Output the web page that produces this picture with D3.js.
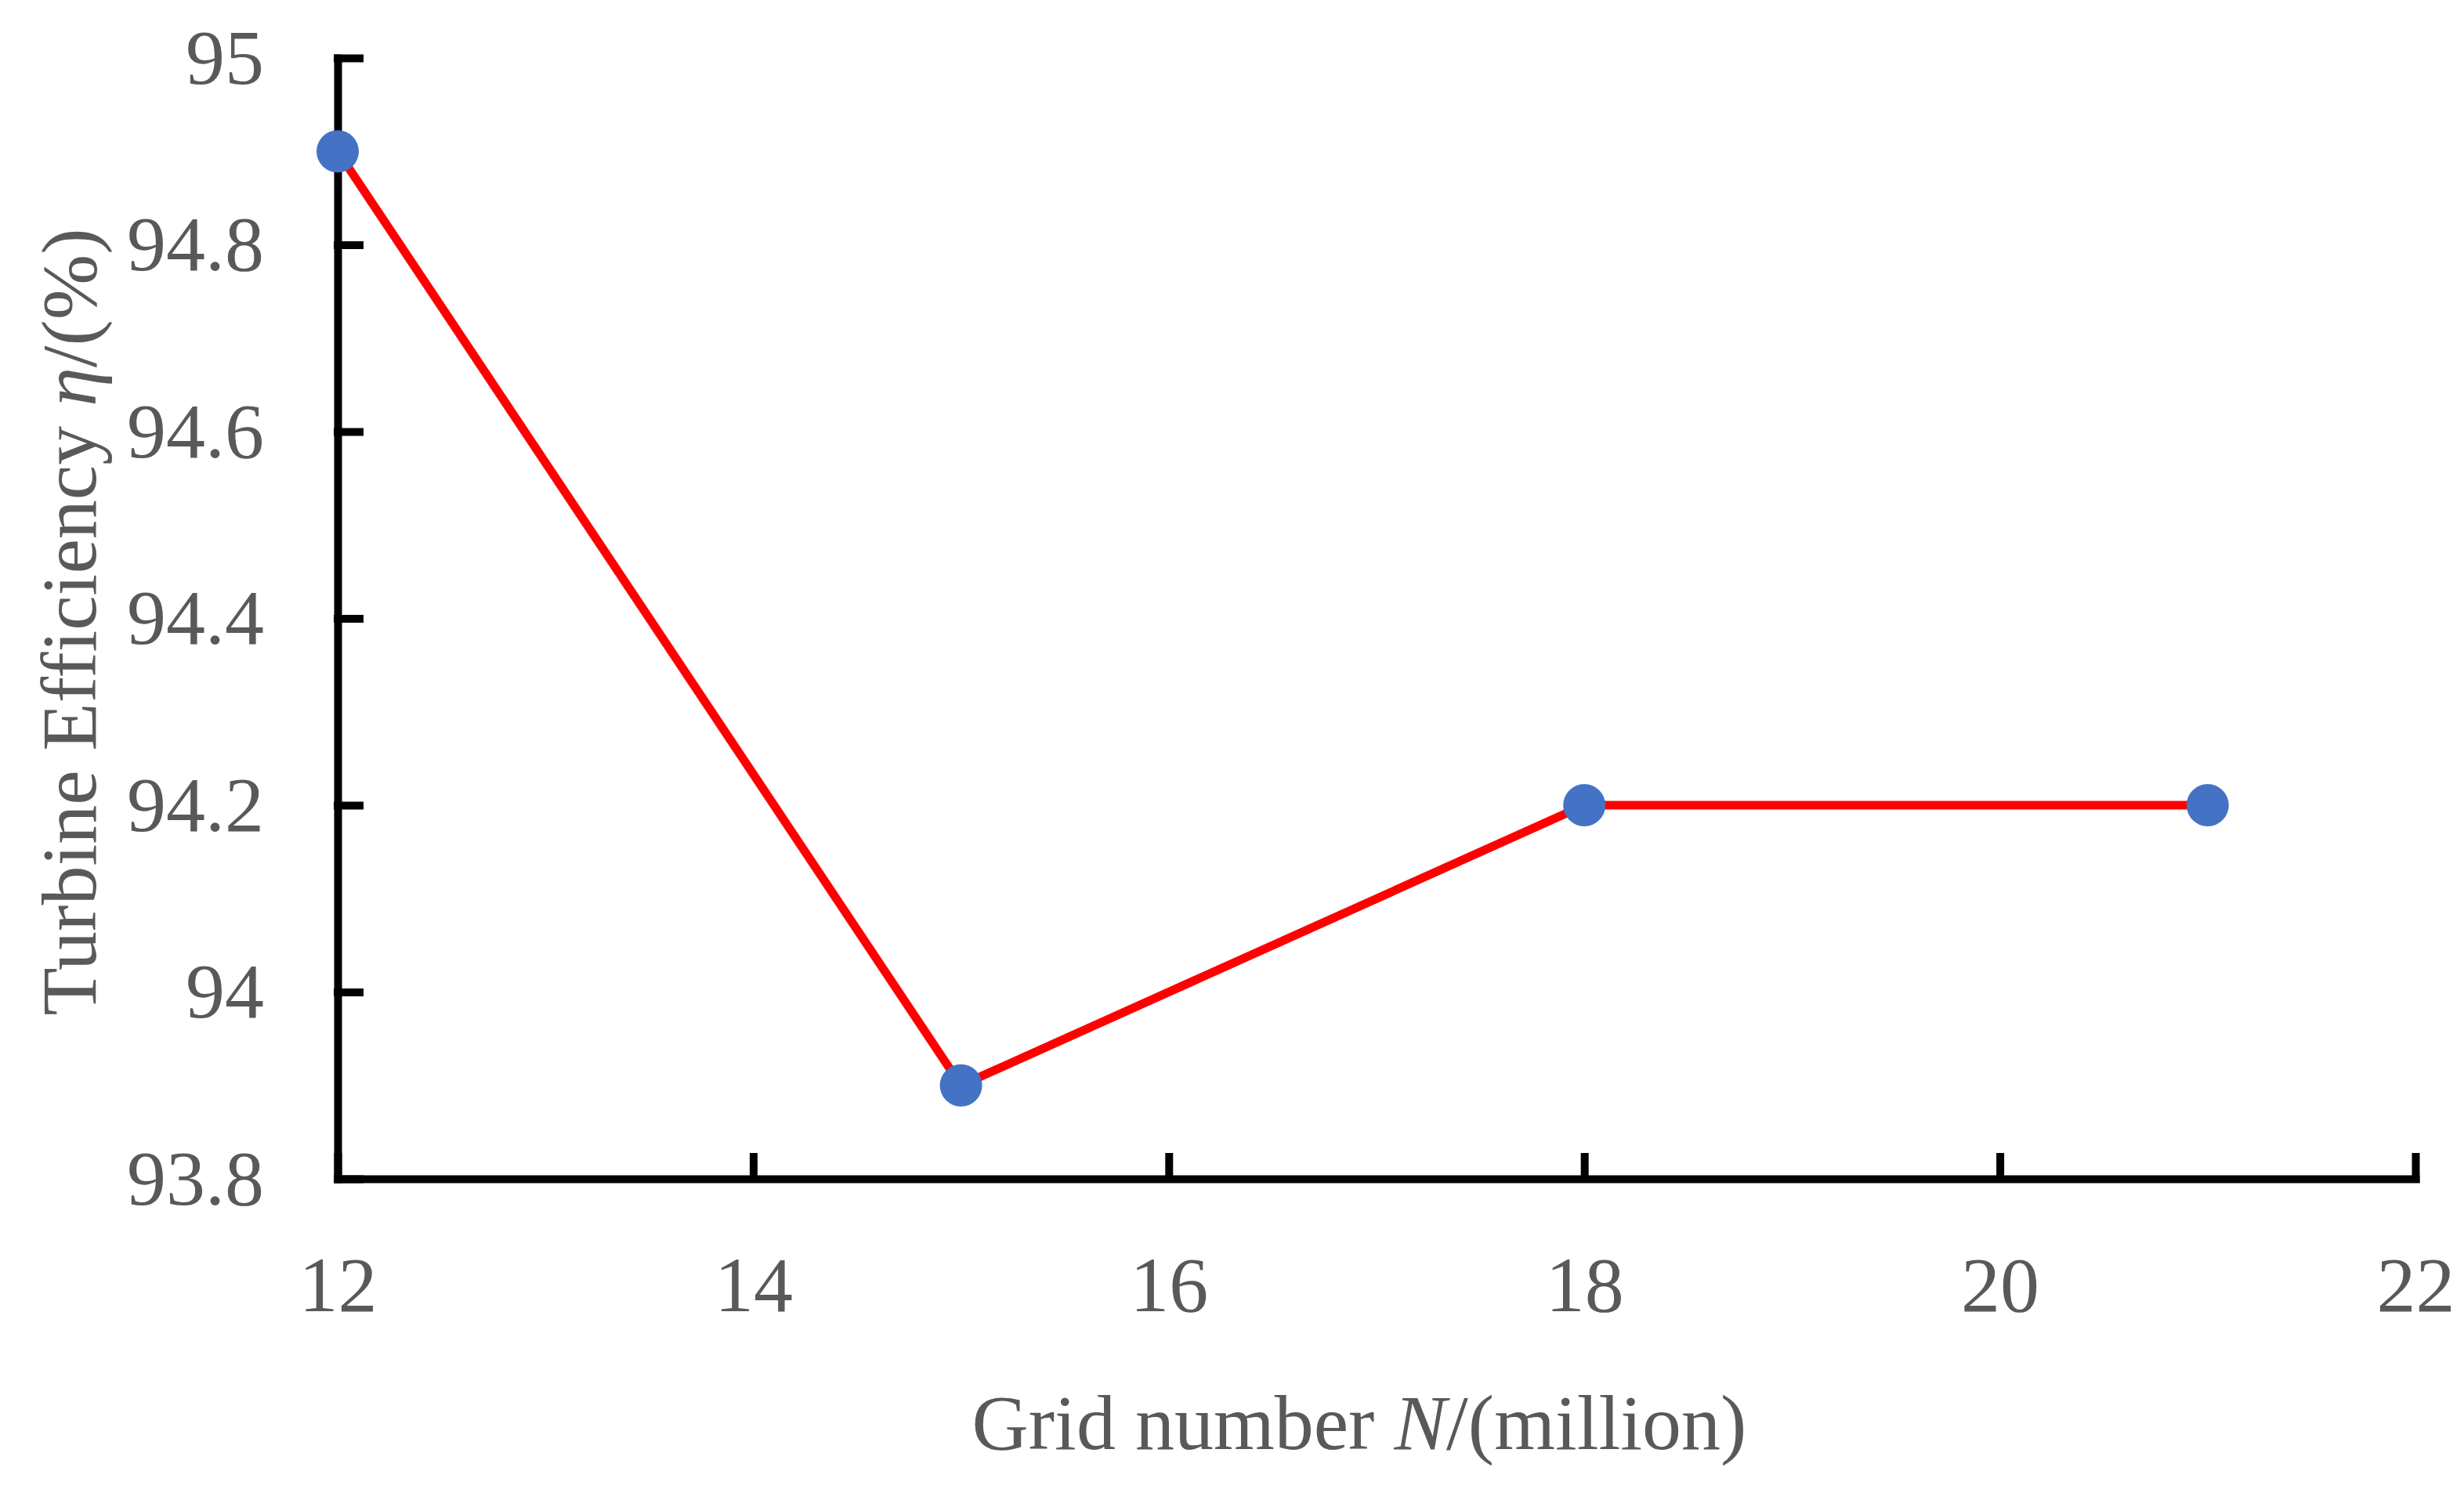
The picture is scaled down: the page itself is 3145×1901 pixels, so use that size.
<!DOCTYPE html>
<html>
<head>
<meta charset="utf-8">
<script src="https://cdn.jsdelivr.net/npm/d3@7"></script>
<style>
  html, body { margin: 0; padding: 0; background: #fff; }
  svg { display: block; }
</style>
</head>
<body>
<script>
const gridNumbers = [12, 15, 18, 21];
const efficiency = [94.9, 93.9, 94.2, 94.2];
const xTicks = [12, 14, 16, 18, 20, 22];
const yTicks = [93.8, 94.0, 94.2, 94.4, 94.6, 94.8, 95.0];
const xTickLabels = ["12", "14", "16", "18", "20", "22"];
const yTickLabels = ["93.8", "94", "94.2", "94.4", "94.6", "94.8", "95"];

const W = 3145, H = 1901;
const margin = {left: 431, right: 3145 - 3083, top: 74, bottom: 1901 - 1505};
const FONT = "'Liberation Serif', 'DejaVu Serif', serif";
const fs = 100;

const svg = d3.select("body").append("svg").attr("width", W).attr("height", H);

const x = d3.scaleLinear().domain([12, 22]).range([margin.left, W - margin.right]);
const y = d3.scaleLinear().domain([93.8, 95]).range([H - margin.bottom, margin.top]);

// line
const data = gridNumbers.map((g, i) => ({g, e: efficiency[i]}));
svg.append("path")
  .datum(data)
  .attr("fill", "none")
  .attr("stroke", "#ff0000")
  .attr("stroke-width", 11)
  .attr("stroke-linejoin", "round")
  .attr("d", d3.line().x(d => x(d.g)).y(d => y(d.e)));

// axes
const xAxis = d3.axisBottom(x)
  .tickValues(xTicks)
  .tickFormat((d, i) => xTickLabels[i])
  .tickSizeInner(-28).tickSizeOuter(0).tickPadding(98);
const yAxis = d3.axisLeft(y)
  .tickValues(yTicks)
  .tickFormat((d, i) => yTickLabels[i])
  .tickSizeInner(-28).tickSizeOuter(0).tickPadding(94);

const gx = svg.append("g").attr("transform", `translate(0,${H - margin.bottom})`).call(xAxis);
const gy = svg.append("g").attr("transform", `translate(${margin.left},0)`).call(yAxis);

[gx, gy].forEach(g => {
  g.select(".domain").attr("stroke", "#000").attr("stroke-width", 10).attr("stroke-linecap", "square");
  g.selectAll(".tick line").attr("stroke", "#000").attr("stroke-width", 10).attr("stroke-linecap", "square");
  g.selectAll(".tick text").attr("fill", "#595959").attr("font-family", FONT).attr("font-size", fs);
});

// markers
svg.append("g").selectAll("circle").data(data).join("circle")
  .attr("cx", d => x(d.g)).attr("cy", d => y(d.e)).attr("r", 27)
  .attr("fill", "#4472c4");

// axis titles
const xt = svg.append("text")
  .attr("x", 1735).attr("y", 1850)
  .attr("text-anchor", "middle")
  .attr("font-family", FONT).attr("font-size", fs).attr("fill", "#595959");
xt.append("tspan").text("Grid number ");
xt.append("tspan").attr("font-style", "italic").text("N");
xt.append("tspan").text("/(million)");

const yt = svg.append("text")
  .attr("transform", `translate(122,794) rotate(-90)`)
  .attr("text-anchor", "middle")
  .attr("font-family", FONT).attr("font-size", fs).attr("fill", "#595959");
yt.append("tspan").text("Turbine Efficiency ");
yt.append("tspan").attr("font-style", "italic").text("η");
yt.append("tspan").text("/(%)");
</script>
</body>
</html>
